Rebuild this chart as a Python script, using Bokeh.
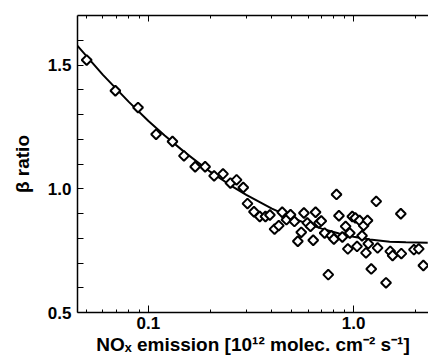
import numpy as np
from bokeh.plotting import figure
from bokeh.models import FixedTicker, LogAxis, Range1d, ColumnDataSource
from bokeh.embed import file_html
from bokeh.resources import INLINE

# ---- data ----
point_x = [0.050, 0.069, 0.089, 0.109, 0.131, 0.149, 0.169, 0.189, 0.209, 0.231,
           0.251, 0.269, 0.290, 0.304, 0.327, 0.349, 0.372, 0.391, 0.412, 0.432,
           0.449, 0.471, 0.493, 0.515, 0.535, 0.556, 0.573, 0.595, 0.617, 0.636,
           0.653, 0.678, 0.696, 0.723, 0.753, 0.779, 0.802, 0.826, 0.849, 0.882,
           0.915, 0.938, 0.959, 0.986, 1.02, 1.04, 1.07, 1.10, 1.12, 1.15,
           1.17, 1.18, 1.22, 1.29, 1.31, 1.44, 1.51, 1.55, 1.70, 1.71,
           1.97, 2.08, 2.19]
point_y = [1.520, 1.396, 1.328, 1.220, 1.191, 1.133, 1.089, 1.089, 1.052, 1.060,
           1.023, 1.036, 1.005, 0.940, 0.907, 0.888, 0.888, 0.894, 0.837, 0.851,
           0.905, 0.875, 0.895, 0.868, 0.788, 0.824, 0.902, 0.862, 0.848, 0.792,
           0.905, 0.862, 0.870, 0.821, 0.653, 0.810, 0.797, 0.977, 0.891, 0.805,
           0.848, 0.757, 0.821, 0.888, 0.882, 0.767, 0.872, 0.810, 0.851, 0.741,
           0.872, 0.778, 0.676, 0.949, 0.761, 0.620, 0.747, 0.730, 0.899, 0.738,
           0.754, 0.757, 0.690]

fit_x = [0.045, 0.06, 0.08, 0.1, 0.12, 0.15, 0.2, 0.25, 0.3, 0.4, 0.5, 0.6,
         0.7, 0.85, 1.0, 1.2, 1.5, 1.8, 2.3]
fit_y = [1.578, 1.460, 1.352, 1.274, 1.215, 1.148, 1.069, 1.015, 0.975, 0.920,
         0.883, 0.857, 0.839, 0.819, 0.806, 0.795, 0.786, 0.784, 0.782]

x_tick_values = [0.1, 1.0]
x_tick_labels = ["0.1", "1.0"]
x_minor_values = [0.05, 0.06, 0.07, 0.08, 0.09, 0.2, 0.3, 0.4, 0.5, 0.6, 0.7,
                  0.8, 0.9, 2.0]
y_tick_values = [0.5, 1.0, 1.5]
y_tick_labels = ["0.5", "1.0", "1.5"]
y_minor_values = [0.6, 0.7, 0.8, 0.9, 1.1, 1.2, 1.3, 1.4, 1.6]

x_label = "NO\u2093 emission [10\u00b9\u00b2 molec. cm\u207b\u00b2 s\u207b\u00b9]"
y_label = "\u03b2 ratio"

FONT = "Liberation Sans"

p = figure(width=428, height=361, x_axis_type="log",
           x_range=Range1d(0.0451, 2.32), y_range=Range1d(0.5, 1.70),
           output_backend="svg", toolbar_location=None,
           min_border_left=77, min_border_right=0, min_border_top=15,
           min_border_bottom=49)
p.outline_line_color = None
p.xgrid.visible = False
p.ygrid.visible = False
p.background_fill_color = "white"
p.border_fill_color = "white"

xt = FixedTicker(ticks=x_tick_values, minor_ticks=x_minor_values)
yt = FixedTicker(ticks=y_tick_values, minor_ticks=y_minor_values)

def style_x(ax):
    ax.ticker = xt
    ax.axis_line_width = 1.5
    ax.axis_line_color = "black"
    ax.major_tick_in = 7
    ax.major_tick_out = 0
    ax.minor_tick_in = 3
    ax.minor_tick_out = 0
    ax.major_tick_line_color = "black"
    ax.minor_tick_line_color = "black"

xa = p.xaxis[0]
style_x(xa)
xa.major_label_overrides = {v: s for v, s in zip(x_tick_values, x_tick_labels)}
xa.major_label_text_font = FONT
xa.major_label_text_font_style = "bold"
xa.major_label_text_font_size = "17px"
xa.major_label_text_color = "black"
xa.major_label_standoff = 4
xa.axis_label = x_label
xa.axis_label_text_font = FONT
xa.axis_label_text_font_style = "bold"
xa.axis_label_text_font_size = "19px"
xa.axis_label_text_color = "black"
xa.axis_label_standoff = 2

top = LogAxis()
style_x(top)
top.major_tick_in = 6
top.major_label_text_font_size = "1px"
top.major_label_text_color = None
top.major_label_standoff = 0
p.add_layout(top, "above")

ya = p.yaxis[0]
ya.ticker = yt
ya.major_label_overrides = {v: s for v, s in zip(y_tick_values, y_tick_labels)}
ya.axis_line_width = 1.5
ya.major_tick_in = 6
ya.major_tick_out = 0
ya.minor_tick_in = 6
ya.minor_tick_out = 0
ya.major_label_text_font = FONT
ya.major_label_text_font_style = "bold"
ya.major_label_text_font_size = "17px"
ya.major_label_text_color = "black"
ya.major_label_standoff = 6
ya.axis_label = y_label
ya.axis_label_text_font = FONT
ya.axis_label_text_font_style = "bold"
ya.axis_label_text_font_size = "19px"
ya.axis_label_text_color = "black"
ya.axis_label_standoff = 12

src_fit = ColumnDataSource(dict(x=fit_x, y=fit_y))
src_pts = ColumnDataSource(dict(x=point_x, y=point_y))
p.line("x", "y", source=src_fit, line_color="black", line_width=2)
p.scatter("x", "y", source=src_pts, marker="square", size=7, angle=np.pi / 4,
          fill_color="white", line_color="black", line_width=2)

open("out.html", "w").write(file_html(p, INLINE))
